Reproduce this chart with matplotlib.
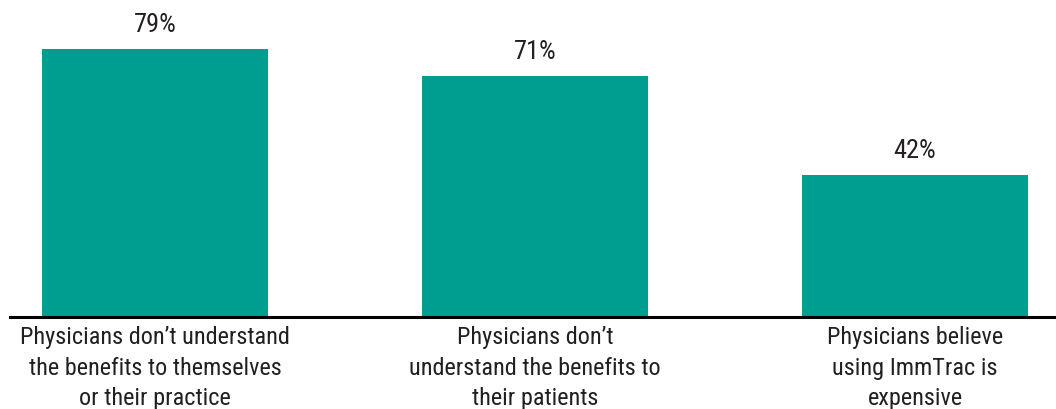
import matplotlib
matplotlib.use("Agg")
import matplotlib.pyplot as plt
from matplotlib import font_manager

# Prefer a condensed face, fall back to the plain sans
names = {f.name for f in font_manager.fontManager.ttflist}
preferred = ["Liberation Sans Narrow", "DejaVu Sans Condensed", "Roboto Condensed"]
family = next((n for n in preferred if n in names), "DejaVu Sans")
plt.rcParams["font.family"] = [family, "DejaVu Sans"]
plt.rcParams["font.stretch"] = "condensed"

categories = [
    "Physicians don\u2019t understand\nthe benefits to themselves\nor their practice",
    "Physicians don\u2019t\nunderstand the benefits to\ntheir patients",
    "Physicians believe\nusing ImmTrac is\nexpensive",
]
values = [79, 71, 42]
bar_color = "#009E91"
text_color = "#231F20"

fig = plt.figure(figsize=(10.56, 4.10), dpi=100)
ax = fig.add_axes([10 / 1056, 92 / 410, 1046 / 1056, 318 / 410])

x = list(range(len(values)))
bars = ax.bar(x, values, width=0.595, color=bar_color)

for xi, v in zip(x, values):
    ax.text(xi, v + 5.3, f"{v}%", ha="center", va="baseline",
            fontsize=19, color=text_color)

for xi, lab in zip(x, categories):
    ax.text(xi, -2.4, lab, ha="center", va="top", fontsize=17.5,
            color=text_color, linespacing=1.42)

ax.set_xlim(-0.3816, 2.371)
ax.set_ylim(0, 93.8)
ax.axhline(0, color="#000000", linewidth=2.2, clip_on=False)
for s in ax.spines.values():
    s.set_visible(False)
ax.set_xticks([])
ax.set_yticks([])

fig.savefig("out.png", dpi=100)
